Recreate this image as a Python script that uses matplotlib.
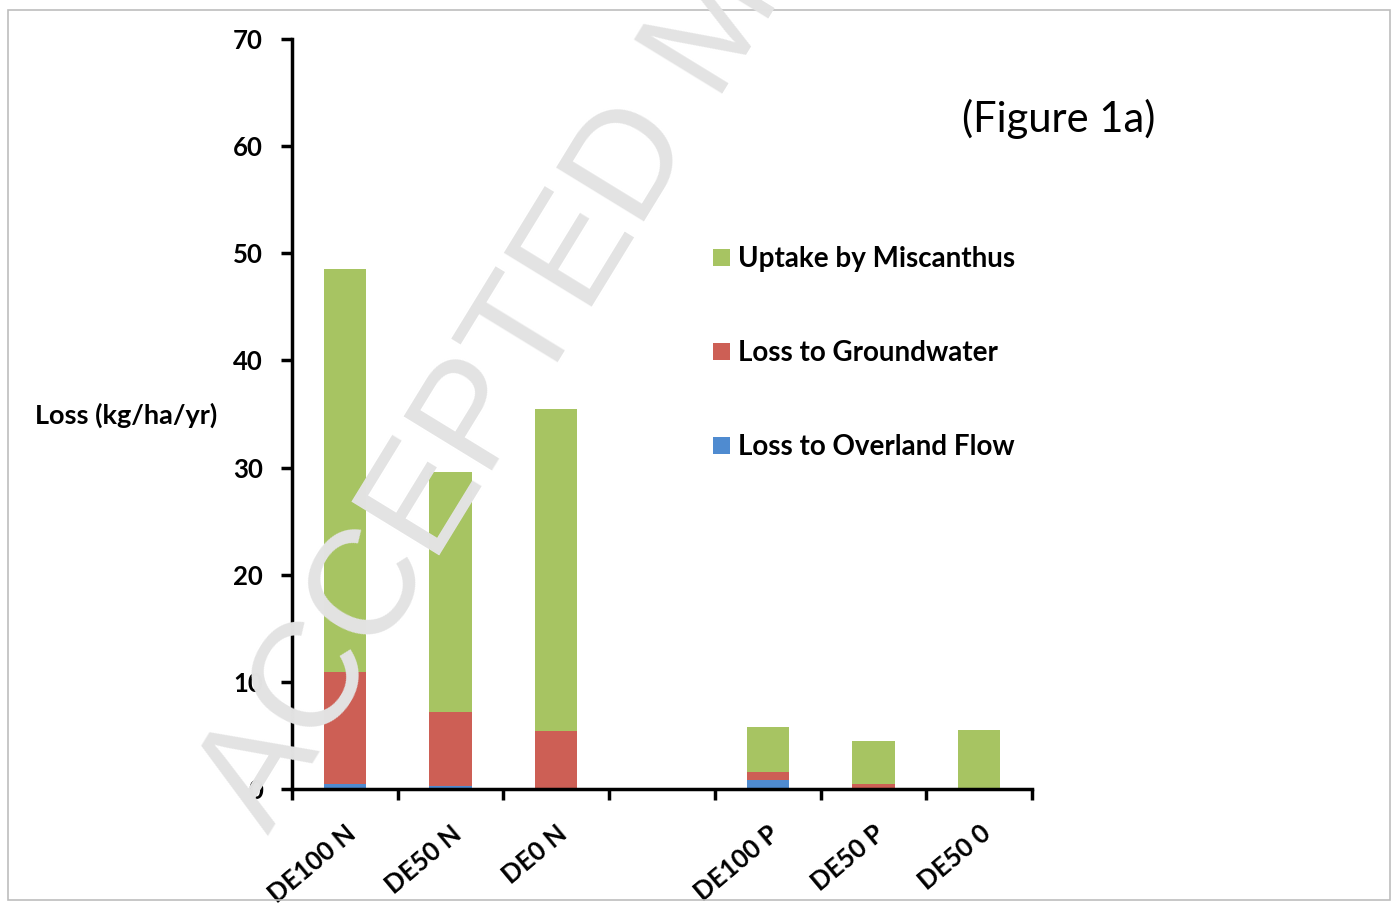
import numpy as np
import matplotlib.pyplot as plt
from matplotlib.patches import Rectangle

# nutrient budget per treatment (kg/ha/yr); empty slot separates N and P groups
categories = ['DE100 N', 'DE50 N', 'DE0 N', '', 'DE100 P', 'DE50 P', 'DE50 0']
overland = [0.5, 0.3, 0.05, 0, 0.8, 0.05, 0.0]
groundwater = [10.4, 6.9, 5.35, 0, 0.8, 0.4, 0.05]
uptake = [37.6, 22.4, 30.1, 0, 4.2, 4.05, 5.45]

plt.rcParams['font.family'] = ['Lato', 'DejaVu Sans']

fig = plt.figure(figsize=(13.98, 9.05), dpi=100)
ax = fig.add_axes([0.2089, 0.1282, 0.5293, 0.8287])

x = np.arange(len(categories)) + 0.5
ov = np.array(overland)
gw = np.array(groundwater)
up = np.array(uptake)
w = 0.4
b1 = ax.bar(x, ov, w, color='#4F8BD0', label='Loss to Overland Flow')
b2 = ax.bar(x, gw, w, bottom=ov, color='#CD5F55', label='Loss to Groundwater')
b3 = ax.bar(x, up, w, bottom=ov + gw, color='#A7C462', label='Uptake by Miscanthus')

ax.set_xlim(0, len(categories))
ax.set_ylim(0, 70)
ax.set_yticks(np.arange(0, 71, 10))
ax.set_xticks(np.arange(0, len(categories) + 1))
ax.set_xticklabels([])
for xi, lab in zip(x, categories):
    ax.text(xi + 0.0, -3.0, lab, rotation=40, ha='right', va='top',
            rotation_mode='anchor', fontsize=18.5, fontweight='bold')

for s in ['top', 'right']:
    ax.spines[s].set_visible(False)
for s in ['left', 'bottom']:
    ax.spines[s].set_linewidth(2.5)
ax.tick_params(axis='both', width=2.5, length=8, direction='out')
ax.tick_params(axis='y', labelsize=18.5, pad=13)
for t in ax.get_yticklabels():
    t.set_fontweight('bold')

fig.text(0.025, 0.541, 'Loss (kg/ha/yr)', fontsize=19.5, fontweight='bold', va='center')

ax.legend(handles=[b3, b2, b1], loc='upper left', bbox_to_anchor=(0.535, 0.757),
          frameon=False, labelspacing=2.45, handlelength=0.6,
          handleheight=0.6, handletextpad=0.3,
          prop={'weight': 'bold', 'size': 20})

fig.text(0.688, 0.869, '(Figure 1a)', fontsize=30, va='center')

# watermark over the plot
fig.text(0.192, 0.077, 'ACCEPTED MANUSCRIPT', family='Liberation Sans', fontsize=108,
         color='#e3e3e3', rotation=58.5, ha='left', va='baseline',
         rotation_mode='anchor', zorder=10)

# light grey frame round the figure
fig.patches.append(Rectangle((0.006, 0.006), 0.988, 0.983, transform=fig.transFigure,
                             fill=False, edgecolor='#bdbdbd', linewidth=1.2))

fig.savefig('out.png', dpi=100)
